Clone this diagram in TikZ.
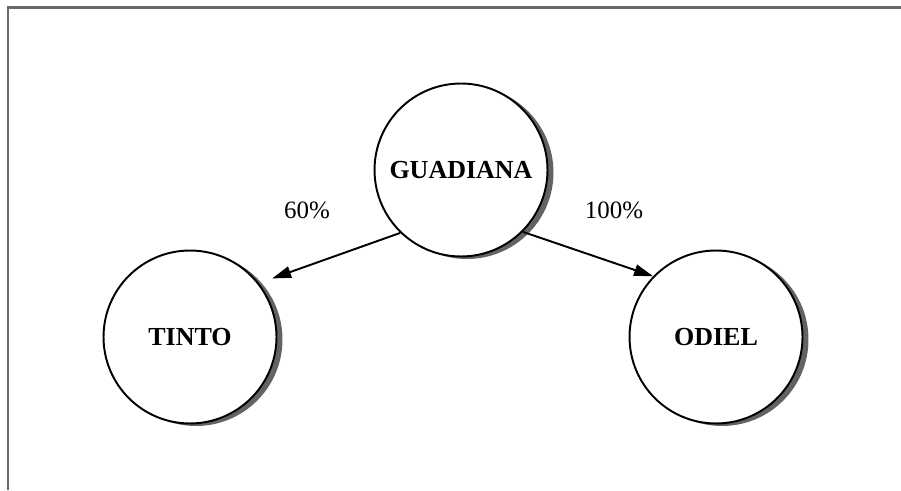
\documentclass[tikz,border=0pt]{standalone}
\usepackage{fontspec}
\setmainfont{Liberation Serif}
\usepackage{tikz}
\usetikzlibrary{arrows.meta, shadows}

\definecolor{framegray}{HTML}{6A6A6A}
\definecolor{shadegray}{HTML}{636363}

\tikzset{
  river/.style={circle, draw, line width=1.1pt, fill=white, inner sep=0pt,
    minimum size=3.46cm, font=\fontsize{14.8}{17}\selectfont\bfseries,
    drop shadow={shadow xshift=0.12cm, shadow yshift=-0.05cm, fill=shadegray, opacity=1}},
  share/.style={font=\fontsize{14.2}{17}\selectfont},
  flow/.style={line width=1.1pt, -{Triangle[length=0.38cm, width=0.23cm]}}
}

\begin{document}
\begin{tikzpicture}[x=0.02cm, y=0.02cm]
\useasboundingbox (0,0) rectangle (901,490);
% frame, top and left side only
\draw[framegray, line width=1.7pt] (901,482) -- (8,482) -- (8,0);

\node[river] (guadiana) at (461,320) {GUADIANA};
\node[river] (tinto) at (190,153) {TINTO};
\node[river] (odiel) at (716,153) {ODIEL};

\draw[flow, shorten >=0.28cm] (guadiana.226) -- (tinto.38);
\draw[flow] (guadiana.-45) -- (odiel.136);

\node[share] (p60) at (307,280) {60\%};
\node[share] (p100) at (614,280) {100\%};
\end{tikzpicture}
\end{document}
